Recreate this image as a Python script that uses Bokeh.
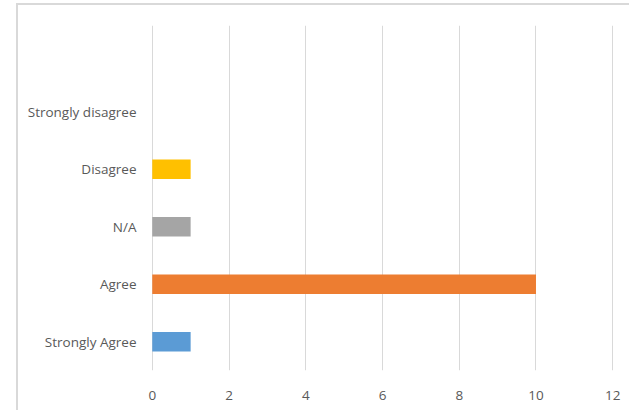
from bokeh.plotting import figure
from bokeh.models import Range1d, FixedTicker
from bokeh.embed import file_html
from bokeh.resources import INLINE

categories = ["Strongly Agree", "Agree", "N/A", "Disagree", "Strongly disagree"]
values = [1, 10, 1, 1, 0]
colors = ["#5B9BD5", "#ED7D31", "#A5A5A5", "#FFC000", "#7F7F7F"]
x_ticks = [0, 2, 4, 6, 8, 10, 12]

positions = list(range(len(categories)))

p = figure(width=613, height=407, output_backend="svg", toolbar_location=None,
           x_range=Range1d(-0.02, 12.02), y_range=Range1d(-0.5, 5.5),
           min_border_left=133, min_border_right=18, min_border_top=20, min_border_bottom=42)
p.styles = {"margin-left": "16px", "margin-top": "3px",
            "border-left": "2px solid #D9D9D9", "border-top": "2px solid #D9D9D9"}

p.hbar(y=positions, right=values, left=0, height=0.335, color=colors, line_color=None)

p.xaxis.ticker = FixedTicker(ticks=x_ticks)
p.yaxis.ticker = FixedTicker(ticks=positions)
p.yaxis.major_label_overrides = {i: c for i, c in zip(positions, categories)}

for ax in (p.xaxis[0], p.yaxis[0]):
    ax.axis_line_color = None
    ax.major_tick_line_color = None
    ax.minor_tick_line_color = None
    ax.major_label_text_font = "Open Sans"
    ax.major_label_text_font_size = "13.5px"
    ax.major_label_text_color = "#595959"
p.xaxis.major_label_standoff = 14
p.yaxis.major_label_standoff = 9

p.xgrid.ticker = FixedTicker(ticks=x_ticks)
p.xgrid.grid_line_color = "#D9D9D9"
p.ygrid.grid_line_color = None
p.outline_line_color = None
p.background_fill_color = "white"
p.border_fill_color = "white"

open("out.html", "w").write(file_html(p, INLINE))
